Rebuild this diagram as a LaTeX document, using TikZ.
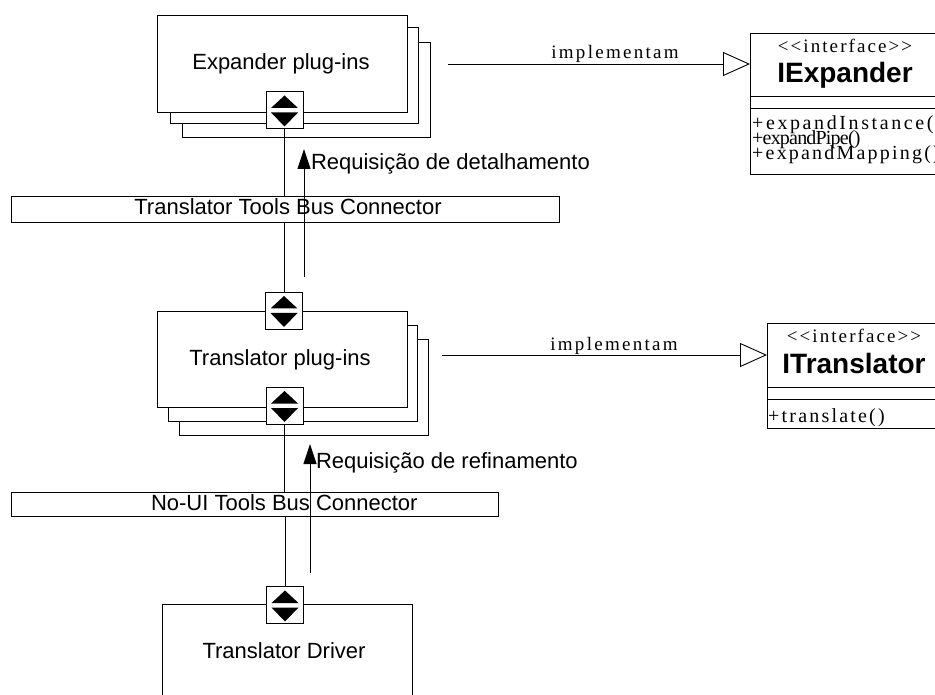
\documentclass[tikz,border=0pt]{standalone}
\usepackage{fontspec}
\setmainfont{Liberation Sans}
\newfontfamily\umlfont{Liberation Serif}
\usetikzlibrary{arrows.meta}

\newcommand\umlspaced[2]{\umlfont\fontsize{#1}{#1}\selectfont\addfontfeatures{LetterSpace=#2}}

\tikzset{
  ln/.style={line width=0.9pt, draw=black},
  sheet/.style={ln, fill=white, inner sep=0pt, outer sep=0pt},
  lbl/.style={font=\fontsize{22}{24}\selectfont, inner sep=0pt, outer sep=0pt},
  cls/.style={font=\bfseries\fontsize{28}{30}\selectfont, inner sep=0pt},
  stereo/.style={font=\umlspaced{19}{11}, inner sep=0pt},
  member/.style={inner sep=0pt, anchor=base west, text height=11pt, text depth=3pt},
  port/.style={ln, fill=white, minimum size=37pt, inner sep=0pt, outer sep=0pt,
    path picture={
      \fill[black] ([shift={(0,14.5pt)}]path picture bounding box.center)
        -- ++(-13.5pt,-12.5pt) -- ++(27pt,0) -- cycle;
      \fill[black] ([shift={(0,-16.5pt)}]path picture bounding box.center)
        -- ++(-13.5pt,14pt) -- ++(27pt,0) -- cycle;
    }},
  req/.style={ln, -{Triangle[length=20pt,width=13pt]}},
  impl/.style={ln, -{Triangle[open,length=27pt,width=24pt,fill=white]}},
}

\begin{document}
\begin{tikzpicture}[x=1pt,y=-1pt]
\useasboundingbox (0,0) rectangle (935,695);
\clip (0,0) rectangle (935,695);

% Expander plug-ins (stacked sheets)
\node[sheet, minimum width=248pt, minimum height=95pt] (expC) at (306,89.5) {};
\node[sheet, minimum width=248pt, minimum height=96pt] (expB) at (294,75) {};
\node[sheet, minimum width=250pt, minimum height=97pt] (exp) at (282,63.5) {};
\node[lbl, anchor=base] (expT) at (281,70) {Expander plug-ins};
\node[port] (pExp) at (284.5,110) {};

% Translator plug-ins (stacked sheets)
\node[sheet, minimum width=249pt, minimum height=96pt] (trC) at (303.5,387) {};
\node[sheet, minimum width=249pt, minimum height=96pt] (trB) at (292.5,373) {};
\node[sheet, minimum width=250pt, minimum height=96pt] (tr) at (282,359) {};
\node[lbl, anchor=base] (trT) at (280,365) {Translator plug-ins};
\node[port] (pTrTop) at (284,310.5) {};
\node[port] (pTrBot) at (284.5,405.5) {};

% Translator Driver
\node[sheet, minimum width=250pt, minimum height=116pt] (drv) at (287,662) {};
\node[lbl, anchor=base] (drvT) at (284,658) {Translator Driver};
\node[port] (pDrv) at (285,605) {};

% Bus connectors
\node[sheet, minimum width=548pt, minimum height=26pt] (bus1) at (285,209) {};
\node[lbl, anchor=base] (bus1T) at (288,215) {Translator Tools Bus Connector};
\node[sheet, minimum width=487pt, minimum height=24pt] (bus2) at (254.5,504) {};
\node[lbl, anchor=base west] (bus2T) at (151,510) {No-UI Tools Bus Connector};

% Port-to-bus links
\draw[ln] (pExp.south) -- (pExp.south |- bus1.north);
\draw[ln] (pTrTop.north |- bus1.south) -- (pTrTop.north);
\draw[ln] (pTrBot.south) -- (pTrBot.south |- bus2.north);
\draw[ln] (pDrv.north |- bus2.south) -- (pDrv.north);

% Request arrows
\coordinate (rq1s) at (304,277);
\coordinate (rq1e) at (304,149);
\draw[req] (rq1s) -- (rq1e);
\node[lbl, anchor=base west] (rq1) at (311,170) {Requisição de detalhamento};
\coordinate (rq2s) at (310,573);
\coordinate (rq2e) at (310,444);
\draw[req] (rq2s) -- (rq2e);
\node[lbl, anchor=base west] (rq2) at (316,468) {Requisição de refinamento};

% Interface IExpander
\node[sheet, minimum width=190pt, minimum height=141pt] (iexp) at (845,103.5) {};
\draw[ln] (iexp.west |- 0,96) -- (iexp.east |- 0,96);
\draw[ln] (iexp.west |- 0,108) -- (iexp.east |- 0,108);
\node[stereo, anchor=base] (iexpS) at (845,53) {<<interface>>};
\node[cls, anchor=base] (iexpN) at (845,83) {IExpander};
\node[member, font=\umlspaced{20}{13}] (m1) at (752,130) {+expandInstance()};
\node[member, font=\umlspaced{20}{-4}] (m2) at (752,145) {+expandPipe()};
\node[member, font=\umlspaced{20}{11}] (m3) at (752,160) {+expandMapping()};

% Interface ITranslator
\node[sheet, minimum width=174pt, minimum height=105pt] (itr) at (854,375.5) {};
\draw[ln] (itr.west |- 0,387) -- (itr.east |- 0,387);
\draw[ln] (itr.west |- 0,399) -- (itr.east |- 0,399);
\node[stereo, anchor=base] (itrS) at (854,342) {<<interface>>};
\node[cls, anchor=base] (itrN) at (854,373) {ITranslator};
\node[member, font=\umlspaced{20}{11}] (m4) at (768,422) {+translate()};

% Realization arrows
\coordinate (im1) at (448,64);
\draw[impl] (im1) -- (im1 -| iexp.west);
\node[stereo, font=\umlspaced{19}{12}, anchor=base] (im1T) at (615,59) {implementam};
\coordinate (im2) at (442,355);
\draw[impl] (im2) -- (im2 -| itr.west);
\node[stereo, font=\umlspaced{19}{12}, anchor=base] (im2T) at (614,350) {implementam};
\end{tikzpicture}
\end{document}
